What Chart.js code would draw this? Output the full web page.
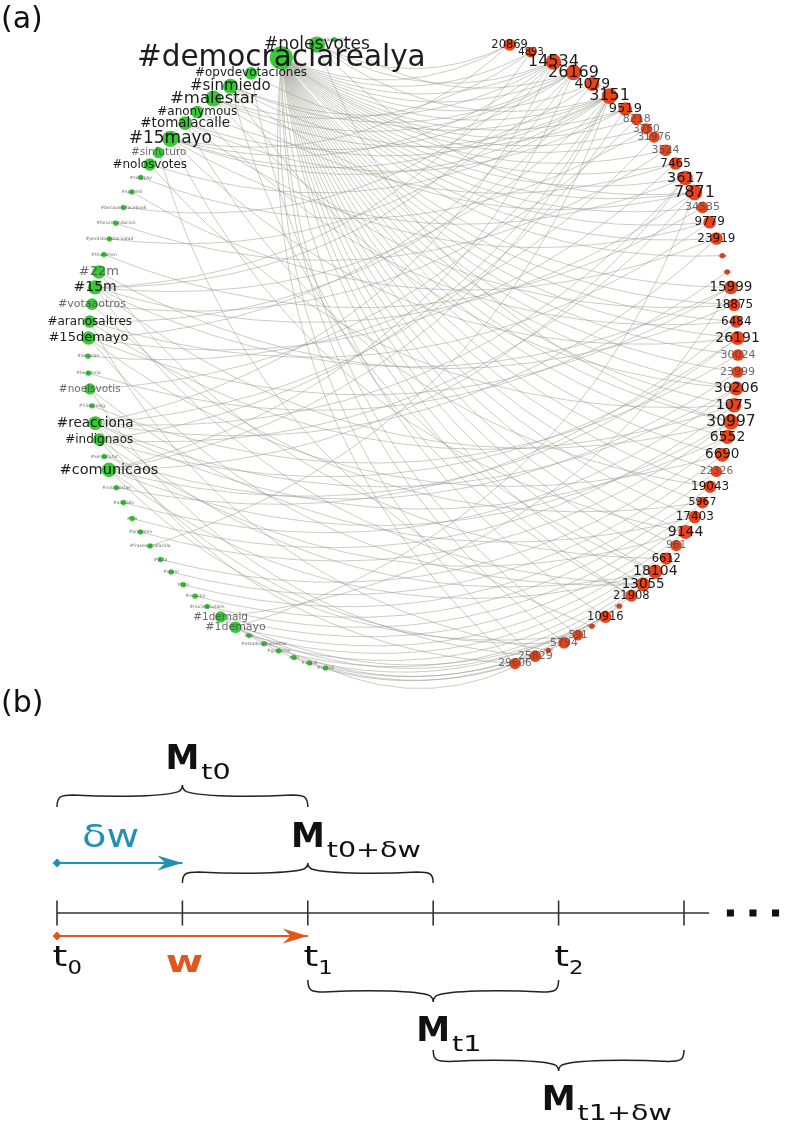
<!DOCTYPE html>
<html lang="es">
<head>
  <meta charset="UTF-8" />
  <title>Red hashtag-usuario y ventanas temporales</title>
  <style>
    body {
      margin: 0;
      background: #fff;
      font-family: "DejaVu Sans", sans-serif;
    }
    .panel {
      position: absolute;
      left: 0;
    }
    #netBox { top: 0; width: 787px; height: 690px; }
    #timeBox { top: 690px; width: 787px; height: 433px; }
    .tag {
      position: absolute;
      left: 1px;
      font-size: 30px;
      line-height: 1;
      color: #111;
    }
  </style>
  <script src="https://cdn.jsdelivr.net/npm/chart.js"></script>
</head>
<body>
  <div class="panel" id="netBox"><canvas id="netCanvas" width="787" height="690"></canvas></div>
  <div class="panel" id="timeBox"><canvas id="timeCanvas" width="787" height="433"></canvas></div>
  <div class="tag" style="top:3px">(a)</div>
  <div class="tag" style="top:687px">(b)</div>

  <script>
    /* ===== (a) datos de la red: hashtags (verde) y usuarios (rojo) ===== */
    // ángulo de cada nodo sobre el círculo, en grados (0 = derecha, antihorario)
    const tagNames = ['#acampadasol', '#nolesvotes', '#democraciarealya', '#opvdevotaciones', '#sinmiedo',
      '#malestar', '#anonymous', '#tomalacalle', '#15mayo', '#sinfuturo', '#nolosvotes', '#sanzpay',
      '#spanish', '#becauseofacebook', '#forumfundacion', '#perdidosenlaciudad', '#thuswhen', '#22m',
      '#15m', '#votaaotros', '#aranosaltres', '#15demayo', '#asturias', '#lavictoria', '#noelsvotis',
      '#15demaig', '#reacciona', '#indignaos', '#sensefutur', '#comunicaos', '#votenestas', '#alacalle',
      '#cm', '#presamo', '#frasesparafacilla', '#vota', '#spanr', '#bcn', '#occupy', '#nuclearsolaris',
      '#1demaig', '#1demayo', '#ns', '#estadodebienestar', '#gobierno', '#sm', '#orgull', '#spotal'];
    const tagAngles = [104, 107.2, 113.9, 119.9, 124.2, 127.9, 131.6, 134.5, 138.3, 141.5, 144.1, 146.9,
      149.9, 153, 156.1, 159.1, 162, 165.2, 168, 171, 174.1, 177, 180.2, 183.2, 186, 189, 192.1, 195.1,
      198.2, 200.7, 204.1, 207, 210.2, 213, 216, 219, 221.9, 225, 227.9, 230.7, 233.7, 236.9, 239.7,
      242.7, 245.6, 248.5, 251.4, 254.4];
    const tagWeight = [3, 28, 53, 18, 24, 27, 18, 21, 28, 15, 18, 3, 3, 3, 3, 3, 3, 20, 22, 16, 18, 20,
      3, 3, 15, 3, 21, 18, 3, 23, 3, 3, 3, 3, 3, 3, 3, 3, 3, 3, 15, 16, 3, 3, 3, 3, 3, 3];

    const userNames = ['20869', '4893', '14534', '26169', '4079', '3151', '9519', '8218', '3760', '31976',
      '3524', '7465', '3617', '7871', '34535', '9779', '23919', '1229', '1990', '15999', '18875', '6484',
      '26191', '30024', '23999', '30206', '1075', '30997', '6552', '6690', '22326', '19043', '5967',
      '17403', '9144', '961', '6612', '18104', '13055', '21908', '8807', '10916', '4630', '591', '5794',
      '1883', '25829', '29606'];
    const userAngles = [72.7, 68.7, 64.4, 60.4, 56.5, 52.8, 49.2, 46.5, 44.1, 42.1, 39, 36.1, 33, 30, 27,
      24.1, 21, 17.8, 14.8, 12, 8.9, 5.9, 3, 0, -3, -5.9, -8.9, -11.9, -14.6, -17.9, -21, -23.9, -27,
      -29.9, -33, -35.9, -38.8, -41.8, -44.9, -47.8, -50.6, -53.7, -56.6, -59.5, -62.3, -65.4, -67.9, -71.7];
    const userWeight = [17, 14, 26, 26, 22, 26, 20, 16, 15, 15, 16, 18, 23, 26, 16, 18, 18, 1, 1, 21, 18,
      18, 22, 16, 16, 22, 23, 25, 22, 21, 15, 18, 16, 18, 22, 15, 17, 22, 21, 17, 1, 17, 1, 14, 16, 1, 16, 15];

    // hashtags usados por cada usuario (índices en tagNames)
    const userLinks = [
      [2, 1, 8], [2, 5, 18], [2, 1, 4, 8, 18, 26, 13], [2, 4, 5, 7, 21, 29, 15, 0], [2, 8, 20],
      [2, 1, 3, 5, 6, 8, 10, 18, 27, 29, 24, 34], [2, 4, 7, 26], [2, 19], [2, 11], [2, 22], [2, 14],
      [2, 5, 21], [2, 8, 26, 29], [2, 1, 4, 18, 27, 41], [2, 16], [2, 7, 20], [2, 12, 26], [2], [23],
      [2, 18, 21, 40], [2, 5, 17], [2, 6, 30], [2, 8, 27, 29], [2, 25], [2, 28], [2, 4, 26, 31],
      [2, 10, 20, 32], [2, 1, 18, 29, 33], [2, 26, 35], [2, 21, 36], [2, 37], [2, 7, 38], [2, 19, 39],
      [2, 24, 40], [2, 8, 41, 27], [2, 42], [2, 17, 43], [2, 4, 26, 29, 44], [2, 18, 21, 45], [2, 3, 46],
      [47], [2, 40, 41], [9], [2, 29], [2, 27, 41], [20], [2, 24, 47], [2, 40, 26]
    ];

    // etiquetas que aparecen en gris
    const greyLabels = new Set(['#sinfuturo', '#22m', '#votaaotros', '#noelsvotis', '#1demaig', '#1demayo',
      '8218', '3760', '31976', '3524', '34535', '30024', '23999', '22326', '961', '591', '5794', '25829', '29606']);

    const fontFor = w => 3 + w / 2;
    const radiusFor = w => Math.max(2.7, 2.4 * Math.sqrt(Math.max(0, fontFor(w) - 4)) - 0.5);
    const onCircle = angles => angles.map(a => ({
      x: Math.cos(a * Math.PI / 180),
      y: Math.sin(a * Math.PI / 180)
    }));

    // aristas curvas entre hashtag y usuario
    const edgePlugin = {
      id: 'edges',
      beforeDatasetsDraw(chart) {
        const ctx = chart.ctx, xs = chart.scales.x, ys = chart.scales.y;
        const tagPts = chart.data.datasets[0].data;
        const userPts = chart.data.datasets[1].data;
        ctx.save();
        ctx.strokeStyle = 'rgba(150,150,138,0.62)';
        ctx.lineWidth = 0.8;
        userLinks.forEach((links, u) => {
          const x2 = xs.getPixelForValue(userPts[u].x), y2 = ys.getPixelForValue(userPts[u].y);
          links.forEach(t => {
            const x1 = xs.getPixelForValue(tagPts[t].x), y1 = ys.getPixelForValue(tagPts[t].y);
            const dx = x2 - x1, dy = y2 - y1;
            const cx = (x1 + x2) / 2 - dy * 0.25;
            const cy = (y1 + y2) / 2 + dx * 0.25;
            ctx.beginPath();
            ctx.moveTo(x1, y1);
            ctx.quadraticCurveTo(cx, cy, x2, y2);
            ctx.stroke();
          });
        });
        ctx.restore();
      }
    };

    // etiquetas centradas sobre cada nodo
    const nodeLabelPlugin = {
      id: 'nodeLabels',
      afterDatasetsDraw(chart) {
        const ctx = chart.ctx;
        ctx.save();
        ctx.textAlign = 'center';
        ctx.textBaseline = 'middle';
        [[tagNames, tagWeight], [userNames, userWeight]].forEach(([names, weights], d) => {
          chart.getDatasetMeta(d).data.forEach((pt, i) => {
            const f = fontFor(weights[i]);
            ctx.font = f.toFixed(1) + 'px "DejaVu Sans"';
            ctx.fillStyle = (greyLabels.has(names[i]) || f < 6) ? 'rgba(70,70,70,0.8)' : 'rgba(10,10,10,0.92)';
            ctx.fillText(names[i], pt.x, pt.y);
          });
        });
        ctx.restore();
      }
    };

    new Chart(document.getElementById('netCanvas'), {
      type: 'scatter',
      data: {
        datasets: [
          {
            data: onCircle(tagAngles),
            pointRadius: tagWeight.map(radiusFor),
            pointBackgroundColor: '#38c838',
            pointBorderWidth: 0,
            clip: false
          },
          {
            data: onCircle(userAngles),
            pointRadius: userWeight.map(radiusFor),
            pointBackgroundColor: '#e8431b',
            pointBorderWidth: 0,
            clip: false
          }
        ]
      },
      options: {
        responsive: false,
        animation: false,
        events: [],
        layout: { padding: 0, autoPadding: false },
        plugins: { legend: { display: false }, tooltip: { enabled: false } },
        scales: {
          x: { display: false, min: -1.2708, max: 1.1508 },
          y: { display: false, min: -1.0308, max: 1.0923 }
        }
      },
      plugins: [edgePlugin, nodeLabelPlugin]
    });

    /* ===== (b) ventanas temporales ===== */
    const tickTimes = [0, 1, 2, 3, 4, 5];
    const timeLabels = [['t', '0'], null, ['t', '1'], null, ['t', '2'], null];
    const axisEnd = 5.2;
    const moreDots = [5.37, 5.55, 5.73];
    const stepDw = 1;     // δw
    const windowW = 2;    // w
    const windowStart = [0, 1, 2, 3];
    const windowSub = ['t0', 't0+δw', 't1', 't1+δw'];

    // posiciones verticales (px dentro del lienzo b)
    const ROW = { axis: 223, dw: 173, w: 246 };
    const braceRows = [
      { tip: 117, peak: 95, above: true },
      { tip: 193, peak: 173, above: true },
      { tip: 290, peak: 312, above: false },
      { tip: 360, peak: 381, above: false }
    ];
    const BLUE = '#2190b5', ORANGE = '#e0561b';

    function drawText(ctx, s, x, y, font, color, sx, center) {
      ctx.save();
      ctx.font = font;
      ctx.fillStyle = color;
      ctx.textBaseline = 'alphabetic';
      const w = ctx.measureText(s).width * sx;
      const x0 = center ? x - w / 2 : x;
      ctx.translate(x0, y);
      ctx.scale(sx, 1);
      ctx.fillText(s, 0, 0);
      ctx.restore();
      return x0 + w;
    }

    // llave con extremos redondeados y tramos centrales algo curvos
    function drawBrace(ctx, x1, x2, yTip, yPeak) {
      const xm = (x1 + x2) / 2, ym = (yTip + yPeak) / 2, c = 16, h = yTip - yPeak;
      ctx.beginPath();
      ctx.moveTo(x1, yTip);
      ctx.bezierCurveTo(x1, ym, x1 + 4, ym - h * 0.05, x1 + c, ym - h * 0.05);
      ctx.bezierCurveTo((x1 + xm) / 2, ym + h * 0.08, xm - c, ym, xm - 4, ym - h * 0.2);
      ctx.quadraticCurveTo(xm, ym - h * 0.3, xm, yPeak);
      ctx.quadraticCurveTo(xm, ym - h * 0.3, xm + 4, ym - h * 0.2);
      ctx.bezierCurveTo(xm + c, ym, (xm + x2) / 2, ym + h * 0.08, x2 - c, ym - h * 0.05);
      ctx.bezierCurveTo(x2 - 4, ym - h * 0.05, x2, ym, x2, yTip);
      ctx.stroke();
    }

    function drawHead(ctx, x, y, color) {
      ctx.save();
      ctx.fillStyle = color;
      ctx.beginPath();
      ctx.moveTo(x, y);
      ctx.lineTo(x - 25, y - 7.5);
      ctx.lineTo(x - 17, y);
      ctx.lineTo(x - 25, y + 7.5);
      ctx.closePath();
      ctx.fill();
      ctx.restore();
    }

    const timelinePlugin = {
      id: 'timelineDecor',
      afterDatasetsDraw(chart) {
        const ctx = chart.ctx, xs = chart.scales.x, ys = chart.scales.y;
        // puntas de flecha
        [[3, BLUE], [4, ORANGE]].forEach(([d, col]) => {
          const end = chart.getDatasetMeta(d).data[1];
          drawHead(ctx, end.x, end.y, col);
        });
        // llaves y etiquetas M
        ctx.save();
        ctx.strokeStyle = '#222';
        ctx.lineWidth = 1.5;
        windowStart.forEach((s, k) => {
          const x1 = xs.getPixelForValue(s), x2 = xs.getPixelForValue(s + windowW);
          const r = braceRows[k];
          const yTip = ys.getPixelForValue(r.tip), yPeak = ys.getPixelForValue(r.peak);
          drawBrace(ctx, x1, x2, yTip, yPeak);
          const base = r.above ? yPeak - 16 : yPeak + 39;
          const xm = (x1 + x2) / 2;
          const right = drawText(ctx, 'M', xm, base, 'bold 34px "DejaVu Sans"', '#111', 1, true);
          drawText(ctx, windowSub[k], right + 2, base + 10, '22px "DejaVu Sans"', '#111', 1.3, false);
        });
        ctx.restore();
        // t0, t1, t2
        tickTimes.forEach((t, i) => {
          if (!timeLabels[i]) return;
          const x = xs.getPixelForValue(t) + 3;
          const y = ys.getPixelForValue(ROW.axis) + 53;
          const r = drawText(ctx, timeLabels[i][0], x, y, '29px "DejaVu Sans"', '#111', 1.3, true);
          drawText(ctx, timeLabels[i][1], r, y + 8, '19px "DejaVu Sans"', '#111', 1.2, false);
        });
        // δw y w
        drawText(ctx, 'δw', xs.getPixelForValue(stepDw / 2) - 9, ys.getPixelForValue(ROW.dw) - 16,
          '32px "DejaVu Sans"', BLUE, 1.25, true);
        drawText(ctx, 'w', xs.getPixelForValue(windowW / 2) + 2, ys.getPixelForValue(ROW.w) + 36,
          'bold 30px "DejaVu Sans"', ORANGE, 1.35, true);
      }
    };

    new Chart(document.getElementById('timeCanvas'), {
      type: 'scatter',
      data: {
        datasets: [
          { // eje temporal
            data: [{ x: 0, y: ROW.axis }, { x: axisEnd, y: ROW.axis }],
            showLine: true, borderColor: '#333', borderWidth: 1.5, pointRadius: 0
          },
          { // marcas
            data: tickTimes.map(t => ({ x: t, y: ROW.axis })),
            pointStyle: 'line', rotation: 90, pointRadius: 12.5,
            borderColor: '#333', pointBorderWidth: 1.6
          },
          { // puntos suspensivos
            data: moreDots.map(t => ({ x: t, y: ROW.axis })),
            pointStyle: 'rect', pointRadius: 5,
            pointBackgroundColor: '#111', pointBorderWidth: 0
          },
          { // δw
            data: [{ x: 0, y: ROW.dw }, { x: stepDw, y: ROW.dw }],
            showLine: true, borderColor: BLUE, borderWidth: 2,
            pointStyle: 'rectRot', pointRadius: [4.5, 0],
            pointBackgroundColor: BLUE, pointBorderWidth: 0
          },
          { // w
            data: [{ x: 0, y: ROW.w }, { x: windowW, y: ROW.w }],
            showLine: true, borderColor: ORANGE, borderWidth: 2,
            pointStyle: 'rectRot', pointRadius: [4.5, 0],
            pointBackgroundColor: ORANGE, pointBorderWidth: 0
          }
        ]
      },
      options: {
        responsive: false,
        animation: false,
        events: [],
        layout: { padding: 0, autoPadding: false },
        plugins: { legend: { display: false }, tooltip: { enabled: false } },
        scales: {
          x: { display: false, min: -0.4545, max: 5.8214 },
          y: { display: false, min: 0, max: 433, reverse: true }
        }
      },
      plugins: [timelinePlugin]
    });
  </script>
</body>
</html>
